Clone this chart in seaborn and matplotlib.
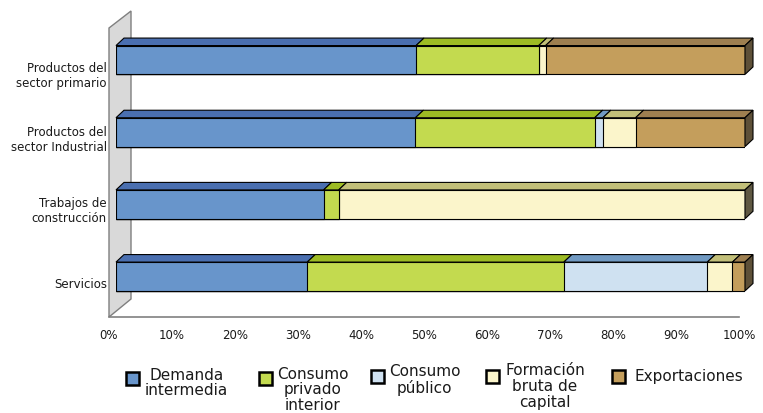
import numpy as np
import pandas as pd
import matplotlib
matplotlib.use("Agg")
import matplotlib.pyplot as plt
import seaborn as sns
from matplotlib.patches import Polygon, Rectangle
from matplotlib.transforms import ScaledTranslation

## data (percent of each product's total use)
sectors = ["Productos del\nsector primario", "Productos del\nsector Industrial",
           "Trabajos de\nconstrucción", "Servicios"]
series = ["Demanda\nintermedia", "Consumo\nprivado\ninterior", "Consumo\npúblico",
          "Formación\nbruta de\ncapital", "Exportaciones"]
demanda_intermedia = [47.7, 47.6, 33.0, 30.4]
consumo_privado = [19.5, 28.5, 2.4, 40.8]
consumo_publico = [0.0, 1.3, 0.0, 22.8]
formacion_capital = [1.1, 5.2, 64.6, 4.0]
exportaciones = [31.7, 17.4, 0.0, 2.0]
x_ticks = list(range(0, 101, 10))

## styles
front_colors = ["#6895CB", "#C3DA4F", "#CFE1F1", "#FBF5CB", "#C49E5C"]
top_colors = ["#4A6FB0", "#9DBB24", "#7099C2", "#C2BF79", "#9E7F50"]
side_colors = ["#34507E", "#6B8018", "#506E8C", "#5F5842", "#5E5038"]

W, H = 763, 414
font = 8.5


def fx(x):
    return x / W


def fy(y):
    return 1 - y / H


def main():
    sns.set_theme(style="white")
    plt.rcParams['font.family'] = ['DejaVu Sans']

    values = np.array([demanda_intermedia, consumo_privado, consumo_publico,
                       formacion_capital, exportaciones])
    cum = np.cumsum(values, axis=0)

    df = pd.DataFrame({'sector': np.tile(sectors, len(series)),
                       'serie': np.repeat(series, len(sectors)),
                       'value': values.ravel(),
                       'end': cum.ravel()})

    fig = plt.figure(figsize=(W / 100, H / 100), dpi=100)

    # bar front faces live here (0..100 from x=116 to x=745 px)
    left_px, right_px, top_px, bot_px = 116, 745, 12, 318
    ax = fig.add_axes([fx(left_px), fy(bot_px), (right_px - left_px) / W, (bot_px - top_px) / H])
    ax.patch.set_visible(False)

    # back wall
    wall = Polygon([(fx(109), fy(29)), (fx(131), fy(12)), (fx(131), fy(300)), (fx(109), fy(318))],
                   closed=True, facecolor="#D9D9D9", edgecolor="#7F7F7F", lw=1.0,
                   transform=fig.transFigure, zorder=0, clip_on=False)
    ax.add_patch(wall)

    # stacked bars: draw cumulative ends, largest first
    for i in range(len(series) - 1, -1, -1):
        sub = df[df.serie == series[i]]
        sns.barplot(data=sub, x='end', y='sector', order=sectors, orient='h',
                    color=front_colors[i], saturation=1, edgecolor='black', linewidth=0.8,
                    width=0.4, errorbar=None, ax=ax, zorder=2)

    spacing = 72.17
    ax.set_xlim(0, 100)
    ax.set_ylim((bot_px - 61) / spacing, (top_px - 61) / spacing)

    # 3d depth in data units
    dx = 8 / ((right_px - left_px) / 100)
    dy = 7.5 / spacing

    bars = ax.patches[-len(sectors):]
    for j, bar in enumerate(bars):
        yt = bar.get_y()
        yb = yt + bar.get_height()
        start = 0
        last = None
        for i in range(len(series)):
            v = values[i, j]
            if v <= 0:
                continue
            end = cum[i, j]
            top = Polygon([(start, yt), (end, yt), (end + dx, yt - dy), (start + dx, yt - dy)],
                          closed=True, facecolor=top_colors[i], edgecolor='black', lw=0.8,
                          zorder=3, clip_on=False)
            ax.add_patch(top)
            start = end
            last = i
        side = Polygon([(start, yt), (start + dx, yt - dy), (start + dx, yb - dy), (start, yb)],
                       closed=True, facecolor=side_colors[last], edgecolor='black', lw=0.8,
                       zorder=3, clip_on=False)
        ax.add_patch(side)

    for s in ax.spines.values():
        s.set_visible(False)
    ax.set_xticks([])
    ax.set_xlabel('')
    ax.set_ylabel('')
    ax.tick_params(axis='y', length=0, pad=6.5, labelsize=font, labelcolor='#1A1A1A')

    # the labels sit a bit lower than the bar fronts in the original
    label_drop = [13, 4, 3.5, 5.5]
    for lab, d in zip(ax.get_yticklabels(), label_drop):
        lab.set_transform(lab.get_transform() + ScaledTranslation(0, -d / 100, fig.dpi_scale_trans))

    # floor axis with the percent ticks (front edge of the floor, 7px left of the bars)
    ax2 = fig.add_axes([fx(109), fy(bot_px), 630 / W, 0.0001])
    ax2.patch.set_visible(False)
    for k in ['left', 'right', 'top']:
        ax2.spines[k].set_visible(False)
    ax2.spines['bottom'].set_color('#808080')
    ax2.spines['bottom'].set_linewidth(1.2)
    ax2.set_xlim(0, 100)
    ax2.set_yticks([])
    ax2.set_xticks(x_ticks)
    ax2.set_xticklabels([f"{t}%" for t in x_ticks])
    ax2.tick_params(axis='x', direction='out', length=4, width=1, color='#808080',
                    labelsize=8.5, labelcolor='#1A1A1A', pad=4)

    # legend, placed by hand like the original
    sq_pos = [(132.5, 379), (265.5, 379.5), (377, 377), (492.5, 377.5), (618, 377)]
    txt_pos = [(186.5, 383, 'center'), (313, 390, 'center'), (424.5, 380, 'center'),
               (545, 386.5, 'center'), (635, 377, 'left')]
    sq = 13
    for i in range(len(series)):
        cx, cy = sq_pos[i]
        fig.patches.append(Rectangle((fx(cx - sq / 2), fy(cy + sq / 2)), sq / W, sq / H,
                                     facecolor=front_colors[i], edgecolor='black', lw=1.8,
                                     transform=fig.transFigure, figure=fig))
        tx, ty, ha = txt_pos[i]
        fig.text(fx(tx), fy(ty), series[i], ha=ha, va='center', multialignment='center',
                 fontsize=11, linespacing=1.05, color='#1A1A1A')

    fig.savefig('out.png', dpi=100)


if __name__ == '__main__':
    main()
